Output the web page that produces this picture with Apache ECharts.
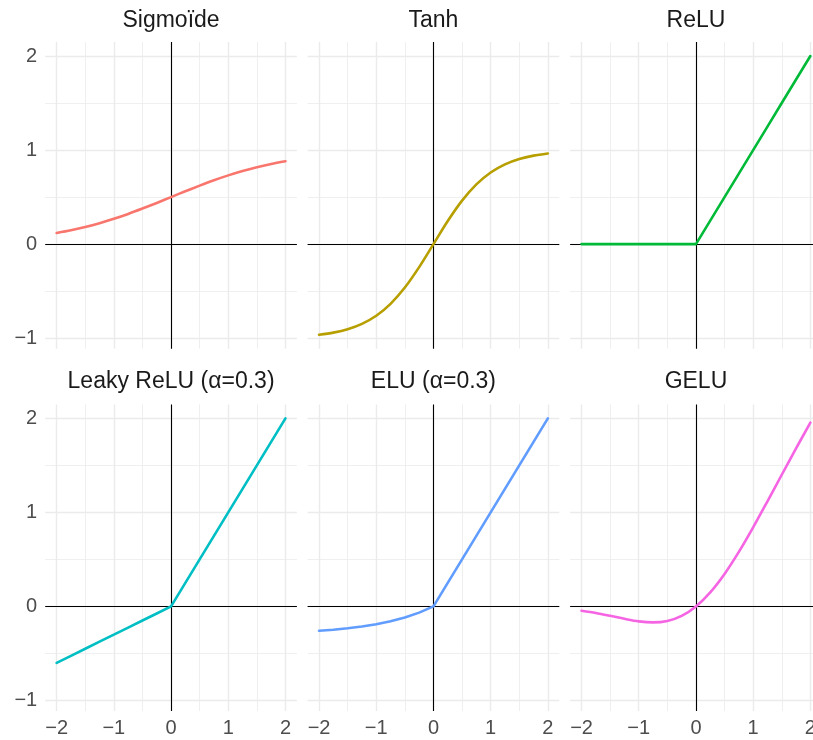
<!DOCTYPE html>
<html>
<head>
<meta charset="utf-8">
<script src="https://cdn.jsdelivr.net/npm/echarts@6/dist/echarts.min.js"></script>
<style>
  html, body { margin: 0; padding: 0; background: #ffffff; }
  #chart { width: 813px; height: 740px; }
</style>
</head>
<body>
<div id="chart"></div>
<script>
// Sample points shared by every activation curve
const xs = [-2, -1.75, -1.5, -1.25, -1, -0.75, -0.5, -0.25, 0, 0.25, 0.5, 0.75, 1, 1.25, 1.5, 1.75, 2];

const sigmoidVals = [0.119, 0.148, 0.182, 0.223, 0.269, 0.321, 0.378, 0.438, 0.5, 0.562, 0.622, 0.679, 0.731, 0.777, 0.818, 0.852, 0.881];
const tanhVals = [-0.964, -0.941, -0.905, -0.848, -0.762, -0.635, -0.462, -0.245, 0, 0.245, 0.462, 0.635, 0.762, 0.848, 0.905, 0.941, 0.964];
const reluVals = [0, 0, 0, 0, 0, 0, 0, 0, 0, 0.25, 0.5, 0.75, 1, 1.25, 1.5, 1.75, 2];
const leakyVals = [-0.6, -0.525, -0.45, -0.375, -0.3, -0.225, -0.15, -0.075, 0, 0.25, 0.5, 0.75, 1, 1.25, 1.5, 1.75, 2];
const eluVals = [-0.259, -0.248, -0.233, -0.214, -0.190, -0.158, -0.118, -0.066, 0, 0.25, 0.5, 0.75, 1, 1.25, 1.5, 1.75, 2];
const geluVals = [-0.046, -0.070, -0.100, -0.132, -0.159, -0.170, -0.154, -0.100, 0, 0.150, 0.346, 0.580, 0.841, 1.118, 1.400, 1.680, 1.954];

const panelTitles = ['Sigmoïde', 'Tanh', 'ReLU', 'Leaky ReLU (α=0.3)', 'ELU (α=0.3)', 'GELU'];
const panelValues = [sigmoidVals, tanhVals, reluVals, leakyVals, eluVals, geluVals];
const panelColors = ['#F8766D', '#B79F00', '#00BA38', '#00BFC4', '#619CFF', '#F564E3'];
const panelSmooth = [true, true, false, false, false, true];

// Axis breaks
const xMajor = [-2, -1, 0, 1, 2];
const xMinor = [-1.5, -0.5, 0.5, 1.5];
const yMajor = [-1, 0, 1, 2];
const yMinor = [-0.5, 0.5, 1.5];

// Panel geometry (pixels)
const colLeft = [45.2, 307.6, 570.1];
const rowTop = [42.1, 404.4];
const panelW = 251.7;
const panelH = 306.6;

const FONT = '"Liberation Sans", Arial, Helvetica, sans-serif';
const fmt = v => (v < 0 ? '\u2212' + Math.abs(v) : String(v));

const grids = [], xAxes = [], yAxes = [], titles = [], series = [];

const plainLine = (color, width, z) => ({
  silent: true,
  z: z,
  symbol: ['none', 'none'],
  label: { show: false },
  emphasis: { disabled: true },
  animation: false,
  lineStyle: { color: color, width: width, type: 'solid' }
});

panelTitles.forEach((name, i) => {
  const col = i % 3, row = Math.floor(i / 3);
  grids.push({
    left: colLeft[col], top: rowTop[row], width: panelW, height: panelH,
    containLabel: false, outerBoundsMode: 'none'
  });
  xAxes.push({
    type: 'value', gridIndex: i, min: -2.2, max: 2.2,
    axisLine: { show: false }, axisTick: { show: false }, splitLine: { show: false },
    axisLabel: {
      show: row === 1, customValues: xMajor, formatter: fmt,
      color: '#4D4D4D', fontSize: 20, fontFamily: FONT, margin: 7
    }
  });
  yAxes.push({
    type: 'value', gridIndex: i, min: -1.112, max: 2.148,
    axisLine: { show: false }, axisTick: { show: false }, splitLine: { show: false },
    axisLabel: {
      show: col === 0, customValues: yMajor, formatter: fmt,
      color: '#4D4D4D', fontSize: 20, fontFamily: FONT, margin: 8
    }
  });
  titles.push({
    text: name, left: colLeft[col] + panelW / 2, top: row === 0 ? 9 : 370,
    textAlign: 'center', padding: 0,
    textStyle: { fontSize: 23, fontWeight: 'normal', color: '#1A1A1A', fontFamily: FONT }
  });

  // background grid: minor then major
  const minorML = plainLine('#EBEBEB', 0.8, 1);
  minorML.data = xMinor.map(v => ({ xAxis: v })).concat(yMinor.map(v => ({ yAxis: v })));
  series.push({ type: 'line', xAxisIndex: i, yAxisIndex: i, data: [], z: 1, silent: true, markLine: minorML });

  const majorML = plainLine('#EBEBEB', 1.4, 2);
  majorML.data = xMajor.map(v => ({ xAxis: v })).concat(yMajor.map(v => ({ yAxis: v })));
  series.push({ type: 'line', xAxisIndex: i, yAxisIndex: i, data: [], z: 2, silent: true, markLine: majorML });

  // reference axes through the origin
  const zeroML = plainLine('#000000', 1.1, 3);
  zeroML.data = [{ xAxis: 0 }, { yAxis: 0 }];
  series.push({ type: 'line', xAxisIndex: i, yAxisIndex: i, data: [], z: 3, silent: true, markLine: zeroML });

  // activation curve
  series.push({
    type: 'line', name: name, xAxisIndex: i, yAxisIndex: i, z: 10,
    data: xs.map((x, k) => [x, panelValues[i][k]]),
    showSymbol: false, symbol: 'none',
    smooth: panelSmooth[i] ? 0.3 : false,
    lineStyle: { color: panelColors[i], width: 2.6, join: 'round', cap: 'round' },
    itemStyle: { color: panelColors[i] },
    emphasis: { disabled: true },
    silent: true, animation: false
  });
});

const chart = echarts.init(document.getElementById('chart'), null, { renderer: 'canvas' });
chart.setOption({
  backgroundColor: '#ffffff',
  animation: false,
  title: titles,
  grid: grids,
  xAxis: xAxes,
  yAxis: yAxes,
  series: series
});
</script>
</body>
</html>
